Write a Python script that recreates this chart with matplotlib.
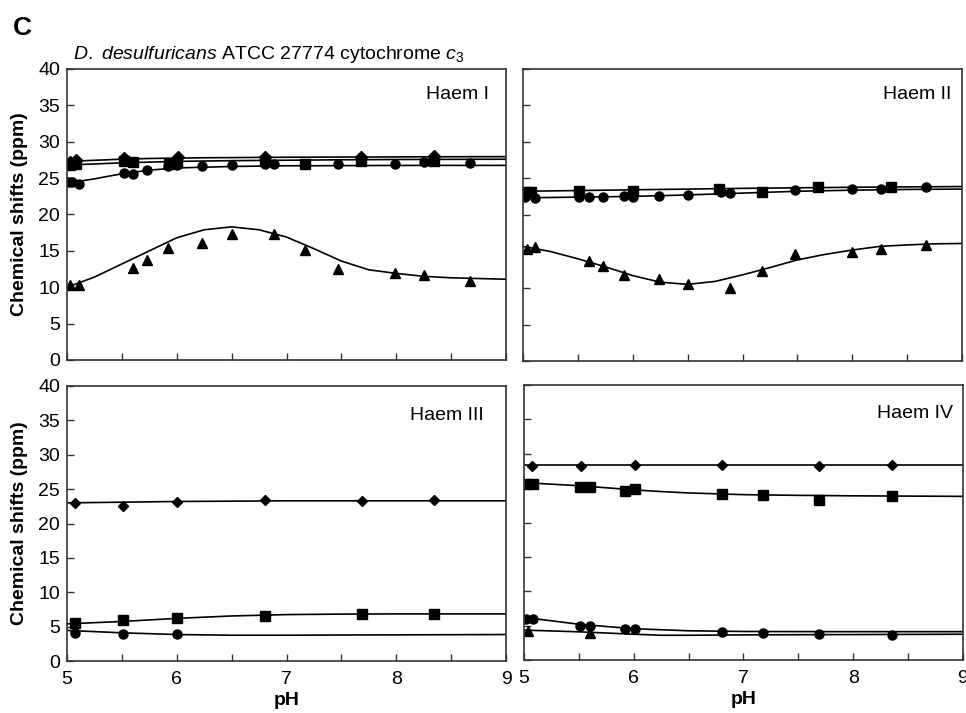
import matplotlib
matplotlib.use("Agg")
import matplotlib.pyplot as plt

plt.rcParams['font.family'] = ['Liberation Sans', 'DejaVu Sans']
plt.rcParams['mathtext.fontset'] = 'custom'
plt.rcParams['mathtext.rm'] = 'Liberation Sans'
plt.rcParams['mathtext.it'] = 'Liberation Sans:italic'

# ---- Haem I ----
h1_dia_ph = [5.03, 5.08, 5.52, 6.01, 6.80, 7.68, 8.34]
h1_dia = [27.2, 27.5, 27.8, 27.95, 27.9, 27.95, 28.1]
h1_sq_ph = [5.03, 5.08, 5.52, 5.60, 5.93, 6.00, 6.80, 7.17, 7.68, 8.34]
h1_sq = [26.8, 26.9, 27.3, 27.2, 27.0, 27.2, 27.3, 26.9, 27.3, 27.3]
h1_cir_ph = [5.02, 5.05, 5.11, 5.52, 5.60, 5.73, 5.92, 6.00, 6.23, 6.50,
             6.80, 6.89, 7.47, 7.99, 8.25, 8.67]
h1_cir = [24.5, 24.4, 24.2, 25.7, 25.6, 26.1, 26.6, 26.8, 26.7, 26.8,
          27.0, 27.0, 27.0, 27.0, 27.2, 27.1]
h1_tri_ph = [5.03, 5.11, 5.60, 5.73, 5.92, 6.23, 6.50, 6.89, 7.17, 7.47,
             7.99, 8.25, 8.67]
h1_tri = [10.3, 10.3, 12.7, 13.8, 15.4, 16.1, 17.3, 17.3, 15.1, 12.5,
          11.9, 11.7, 10.8]

fit_ph = [5.0, 5.25, 5.5, 5.75, 6.0, 6.25, 6.5, 6.75, 7.0, 7.25, 7.5,
          7.75, 8.0, 8.25, 8.5, 8.75, 9.0]
h1_dia_fit = [27.3, 27.45, 27.6, 27.7, 27.75, 27.8, 27.82, 27.85, 27.87,
              27.88, 27.9, 27.9, 27.92, 27.93, 27.94, 27.95, 27.95]
h1_sq_fit = [26.8, 26.95, 27.1, 27.2, 27.3, 27.35, 27.4, 27.43, 27.46,
             27.49, 27.52, 27.54, 27.56, 27.57, 27.58, 27.59, 27.6]
h1_cir_fit = [24.3, 24.9, 25.6, 26.1, 26.4, 26.5, 26.6, 26.65, 26.7, 26.7,
              26.72, 26.73, 26.74, 26.75, 26.75, 26.75, 26.75]
h1_tri_fit = [10.0, 11.4, 13.2, 15.0, 16.8, 17.9, 18.3, 17.9, 16.9, 15.3,
              13.6, 12.4, 11.9, 11.5, 11.3, 11.2, 11.1]

# ---- Haem II ----
h2_sq_ph = [5.04, 5.07, 5.51, 6.00, 6.79, 7.18, 7.69, 8.35]
h2_sq = [23.1, 23.2, 23.3, 23.3, 23.5, 23.2, 23.9, 23.9]
h2_cir_ph = [5.02, 5.11, 5.51, 5.60, 5.73, 5.92, 6.00, 6.24, 6.50, 6.80,
             6.89, 7.48, 8.00, 8.26, 8.67]
h2_cir = [22.5, 22.3, 22.5, 22.4, 22.45, 22.6, 22.5, 22.6, 22.7, 23.1,
          23.0, 23.45, 23.6, 23.6, 23.8]
h2_tri_ph = [5.04, 5.11, 5.60, 5.73, 5.92, 6.24, 6.50, 6.89, 7.18, 7.48,
             8.00, 8.26, 8.67]
h2_tri = [15.3, 15.6, 13.7, 13.0, 11.8, 11.2, 10.5, 10.0, 12.3, 14.6,
          14.9, 15.3, 15.9]

h2_sq_fit_ph = [5.0, 6.0, 7.0, 8.0, 9.0]
h2_sq_fit = [23.25, 23.45, 23.65, 23.8, 23.9]
h2_cir_fit_ph = [5.0, 5.5, 6.0, 6.5, 7.0, 7.5, 8.0, 8.5, 9.0]
h2_cir_fit = [22.35, 22.45, 22.55, 22.75, 23.0, 23.25, 23.4, 23.5, 23.55]
h2_tri_fit = [15.7, 15.0, 14.0, 12.9, 11.7, 10.8, 10.5, 10.9, 11.8, 12.8,
              13.85, 14.6, 15.2, 15.7, 15.9, 16.05, 16.1]

# ---- Haem III ----
h3_ph = [5.07, 5.51, 6.00, 6.80, 7.69, 8.34]
h3_dia = [23.0, 22.5, 23.2, 23.4, 23.3, 23.4]
h3_sq = [5.6, 6.0, 6.3, 6.55, 6.85, 6.85]
h3_cir_ph = [5.07, 5.51, 6.00]
h3_cir = [4.1, 4.0, 3.9]

h3_fit_ph = [5.0, 5.5, 6.0, 6.5, 7.0, 7.5, 8.0, 9.0]
h3_dia_fit = [23.0, 23.1, 23.2, 23.25, 23.3, 23.3, 23.3, 23.3]
h3_sq_fit = [5.4, 5.75, 6.2, 6.55, 6.75, 6.82, 6.85, 6.85]
h3_cir_fit = [4.45, 4.1, 3.85, 3.75, 3.75, 3.78, 3.8, 3.85]

# ---- Haem IV ----
h4_dia_ph = [5.07, 5.52, 6.01, 6.80, 7.69, 8.35]
h4_dia = [28.2, 28.25, 28.3, 28.3, 28.25, 28.35]
h4_ph = [5.02, 5.08, 5.51, 5.60, 5.92, 6.01, 6.80, 7.18, 7.69, 8.35]
h4_sq = [25.6, 25.6, 25.1, 25.1, 24.6, 24.8, 24.2, 23.95, 23.3, 23.85]
h4_cir = [5.9, 5.9, 4.95, 4.95, 4.45, 4.5, 4.07, 3.95, 3.8, 3.65]
h4_tri_ph = [5.04, 5.60]
h4_tri = [4.2, 4.0]

h4_fit_ph = [5.0, 5.5, 6.0, 6.25, 6.5, 7.0, 7.5, 8.0, 9.0]
h4_dia_fit = [28.3, 28.3, 28.3, 28.3, 28.3, 28.3, 28.3, 28.3, 28.3]
h4_sq_fit = [25.8, 25.35, 24.75, 24.5, 24.3, 24.05, 23.95, 23.88, 23.8]
h4_cir_fit = [6.2, 5.2, 4.55, 4.4, 4.25, 4.15, 4.13, 4.12, 4.12]
h4_tri_fit = [4.35, 4.1, 3.75, 3.6, 3.6, 3.65, 3.68, 3.7, 3.75]

fig = plt.figure(figsize=(9.66, 7.13), dpi=100)
W, H = 966, 713


def make_ax(x0, y_bot, x1, y_top):
    return fig.add_axes([x0 / W, 1 - y_bot / H, (x1 - x0) / W, (y_bot - y_top) / H])


ax1 = make_ax(67, 360, 506, 69)
ax2 = make_ax(523, 361, 962, 69)
ax3 = make_ax(67, 661, 506, 386)
ax4 = make_ax(524, 660, 963, 385)

big = dict(color='black', linestyle='none', markersize=6.5)


def series(ax, ph, vals, marker, **kw):
    style = dict(big)
    style.update(kw)
    ax.plot(ph, vals, marker=marker, **style)


def fit(ax, ph, vals):
    ax.plot(ph, vals, color='black', linewidth=1.2)


# Haem I
fit(ax1, fit_ph, h1_dia_fit)
fit(ax1, fit_ph, h1_sq_fit)
fit(ax1, fit_ph, h1_cir_fit)
fit(ax1, fit_ph, h1_tri_fit)
series(ax1, h1_dia_ph, h1_dia, 'D', markersize=6)
series(ax1, h1_sq_ph, h1_sq, 's')
series(ax1, h1_cir_ph, h1_cir, 'o')
series(ax1, h1_tri_ph, h1_tri, '^', markersize=7.5)

# Haem II
fit(ax2, h2_sq_fit_ph, h2_sq_fit)
fit(ax2, h2_cir_fit_ph, h2_cir_fit)
fit(ax2, fit_ph, h2_tri_fit)
series(ax2, h2_sq_ph, h2_sq, 's')
series(ax2, h2_cir_ph, h2_cir, 'o')
series(ax2, h2_tri_ph, h2_tri, '^', markersize=7.5)

# Haem III
fit(ax3, h3_fit_ph, h3_dia_fit)
fit(ax3, h3_fit_ph, h3_sq_fit)
fit(ax3, h3_fit_ph, h3_cir_fit)
series(ax3, h3_ph, h3_dia, 'D', markersize=5)
series(ax3, h3_ph, h3_sq, 's')
series(ax3, h3_cir_ph, h3_cir, 'o')

# Haem IV
fit(ax4, h4_fit_ph, h4_dia_fit)
fit(ax4, h4_fit_ph, h4_sq_fit)
fit(ax4, h4_fit_ph, h4_cir_fit)
fit(ax4, h4_fit_ph, h4_tri_fit)
series(ax4, h4_dia_ph, h4_dia, 'D', markersize=5)
series(ax4, h4_ph, h4_sq, 's')
series(ax4, h4_ph, h4_cir, 'o')
series(ax4, h4_tri_ph, h4_tri, '^', markersize=7)

labels = [(ax1, 'Haem I', 0.961, 0.897), (ax2, 'Haem II', 0.975, 0.897),
          (ax3, 'Haem III', 0.95, 0.876), (ax4, 'Haem IV', 0.977, 0.88)]
for ax, name, tx, ty in labels:
    ax.text(tx, ty, name, transform=ax.transAxes, ha='right', va='baseline',
            fontsize=14)

for ax in (ax1, ax2, ax3, ax4):
    ax.set_xlim(5, 9)
    ax.set_ylim(0, 40)
    ax.set_yticks(range(0, 41, 5))
    ax.set_xticks([5, 5.5, 6, 6.5, 7, 7.5, 8, 8.5, 9])
    ax.tick_params(direction='in', length=5, width=1, labelsize=14,
                   color='#333333')
    ax.tick_params(axis='x', pad=7)
    ax.tick_params(axis='y', pad=5)
    for sp in ax.spines.values():
        sp.set_linewidth(1.2)
        sp.set_color('#333333')

xlabels = ['5', '', '6', '', '7', '', '8', '', '9']
for ax in (ax1, ax2):
    ax.set_xticklabels([])
for ax in (ax3, ax4):
    ax.set_xticklabels(xlabels)
    ax.set_xlabel('pH', fontsize=14, fontweight='bold', labelpad=3)
for ax in (ax2, ax4):
    ax.set_yticklabels([])
for ax in (ax1, ax3):
    ax.set_ylabel('Chemical shifts (ppm)', fontsize=14, fontweight='bold',
                  labelpad=7)

fig.text(13 / W, 1 - 35 / H, 'C', fontsize=19, fontweight='bold', va='baseline')
fig.text(73 / W, 1 - 59 / H,
         r'$\mathit{D.\ desulfuricans}$ ATCC 27774 cytochrome $\mathit{c}_3$',
         fontsize=14, va='baseline')

fig.savefig('out.png', dpi=100)
